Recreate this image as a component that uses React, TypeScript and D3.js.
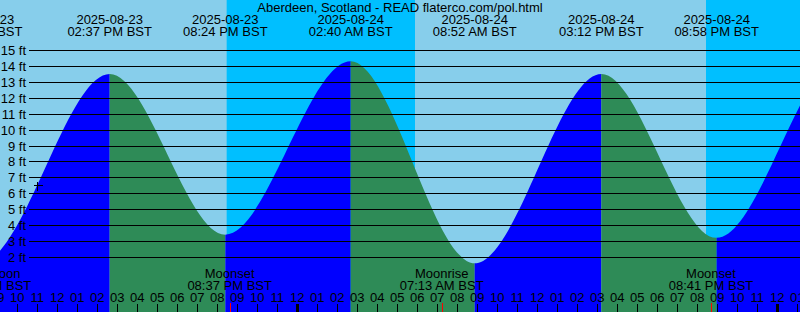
import React, { useEffect } from "react";
import * as d3 from "d3";

const W = 800;
const H = 312;

const titleText = "Aberdeen, Scotland - READ flaterco.com/pol.html";
const viewStart = "2025-08-23T09:08";
const viewEnd = "2025-08-25T01:08";

// Tide extremes (BST); first and last lie outside the view
const tideTimes = [
  "2025-08-23T02:00",
  "2025-08-23T08:11",
  "2025-08-23T14:37",
  "2025-08-23T20:24",
  "2025-08-24T02:40",
  "2025-08-24T08:52",
  "2025-08-24T15:12",
  "2025-08-24T20:58",
  "2025-08-25T03:18",
  "2025-08-25T09:30",
];
const tideHeights = [14.2, 1.7, 13.5, 3.4, 14.3, 1.6, 13.5, 3.2, 14.6, 1.5];

// Sun (BST)
const sunsetTimes = ["2025-08-23T20:28", "2025-08-24T20:26"];
const sunriseTimes = ["2025-08-24T05:53", "2025-08-25T05:55"];

// Moon events (BST)
const moonTimes = ["2025-08-23T08:36", "2025-08-23T20:37", "2025-08-24T07:13", "2025-08-24T20:41"];
const moonLabels = ["New Moon", "Moonset", "Moonrise", "Moonset"];

// Height axis ticks (ft)
const heightTicks = [2, 3, 4, 5, 6, 7, 8, 9, 10, 11, 12, 13, 14, 15];

// Current-time marker
const nowTimes = ["2025-08-23T11:00"];
const nowHeights = [6.5];

const parse = (s: string) => new Date(s + ":00Z");

const COLORS = {
  day: "#87ceeb",
  night: "#00bfff",
  flood: "#0000ff",
  ebb: "#2e8b57",
  text: "#000000",
  moonTick: "#ff0000",
};

const FONT = "'Liberation Sans', Arial, Helvetica, sans-serif";

export default function App() {
  useEffect(() => {
    document.body.style.margin = "0";
  }, []);

  const t0 = parse(viewStart);
  const t1 = parse(viewEnd);
  const x = d3.scaleUtc().domain([t0, t1]).range([0, W]);
  const y = d3.scaleLinear().domain([0, 15]).range([288.8, 50]);

  const tt = tideTimes.map(parse);
  const idx = d3.range(tt.length);
  const areaPath =
    d3
      .area<number>()
      .x((i) => x(tt[i]))
      .y0(H)
      .y1((i) => y(tideHeights[i]))
      .curve(d3.curveMonotoneX)(idx) || "";

  const fmtDate = d3.utcFormat("%Y-%m-%d");
  const fmtTime = (d: Date) => d3.utcFormat("%I:%M %p")(d) + " BST";
  const fmtHour = d3.utcFormat("%I");

  const hours = d3.utcHour.range(d3.utcHour.floor(t0), new Date(+t1 + 1));

  const nights = sunsetTimes.map((s, i) => [parse(s), parse(sunriseTimes[i])]);

  return (
    <svg
      width={W}
      height={H}
      style={{ position: "absolute", left: 0, top: 0, display: "block" }}
      fontFamily={FONT}
    >
      <defs>
        <clipPath id="tideClip">
          <path d={areaPath} />
        </clipPath>
      </defs>
      {/* sky */}
      <rect x={0} y={0} width={W} height={H} fill={COLORS.day} />
      {nights.map(([a, b], i) => (
        <rect
          key={"n" + i}
          x={x(a)}
          y={0}
          width={Math.max(0, x(b) - x(a))}
          height={H}
          fill={COLORS.night}
        />
      ))}
      {/* tide fill */}
      <g clipPath="url(#tideClip)">
        {idx.slice(0, -1).map((i) => (
          <rect
            key={"s" + i}
            x={x(tt[i])}
            y={0}
            width={x(tt[i + 1]) - x(tt[i])}
            height={H}
            fill={tideHeights[i + 1] > tideHeights[i] ? COLORS.flood : COLORS.ebb}
          />
        ))}
      </g>
      {/* grid lines */}
      {heightTicks.map((h) => {
        const yy = Math.round(y(h)) + 0.5;
        return (
          <g key={"h" + h}>
            <line x1={29} x2={W} y1={yy} y2={yy} stroke="#000" strokeWidth={1} shapeRendering="crispEdges" />
            <text x={26} y={yy} textAnchor="end" dominantBaseline="central" fontSize={13} fill={COLORS.text}>
              {h} ft
            </text>
          </g>
        );
      })}
      {/* title */}
      <text x={W / 2} y={12} textAnchor="middle" fontSize={13} fill={COLORS.text}>
        {titleText}
      </text>
      {/* extreme labels */}
      {tt.map((d, i) => (
        <g key={"e" + i}>
          <text x={x(d)} y={24} textAnchor="middle" fontSize={13} fill={COLORS.text}>
            {fmtDate(d)}
          </text>
          <text x={x(d)} y={36} textAnchor="middle" fontSize={13} fill={COLORS.text}>
            {fmtTime(d)}
          </text>
        </g>
      ))}
      {/* moon labels */}
      {moonTimes.map((s, i) => {
        const d = parse(s);
        const xx = Math.round(x(d)) + 0.5;
        return (
          <g key={"m" + i}>
            <text x={x(d)} y={278} textAnchor="middle" fontSize={13} fill={COLORS.text}>
              {moonLabels[i]}
            </text>
            <text x={x(d)} y={290} textAnchor="middle" fontSize={13} fill={COLORS.text}>
              {fmtTime(d)}
            </text>
            <line x1={xx} x2={xx} y1={303} y2={H} stroke={COLORS.moonTick} strokeWidth={1} shapeRendering="crispEdges" />
          </g>
        );
      })}
      {/* hour ticks */}
      {hours.map((d, i) => {
        const xx = Math.round(x(d)) + 0.5;
        const midnight = d.getUTCHours() === 0;
        return (
          <g key={"t" + i}>
            <text x={x(d)} y={301.5} textAnchor="middle" fontSize={13} fill={COLORS.text}>
              {fmtHour(d)}
            </text>
            <line
              x1={xx}
              x2={xx}
              y1={304}
              y2={H}
              stroke="#000"
              strokeWidth={midnight ? 3 : 1}
              shapeRendering="crispEdges"
            />
          </g>
        );
      })}
      {/* now marker */}
      {nowTimes.map((s, i) => {
        const cx = Math.round(x(parse(s))) + 0.5;
        const cy = Math.round(y(nowHeights[i])) + 0.5;
        return (
          <g key={"now" + i} stroke="#000" strokeWidth={1} shapeRendering="crispEdges">
            <line x1={cx - 4} x2={cx + 5} y1={cy} y2={cy} />
            <line x1={cx} x2={cx} y1={cy - 4} y2={cy + 5} />
          </g>
        );
      })}
    </svg>
  );
}
